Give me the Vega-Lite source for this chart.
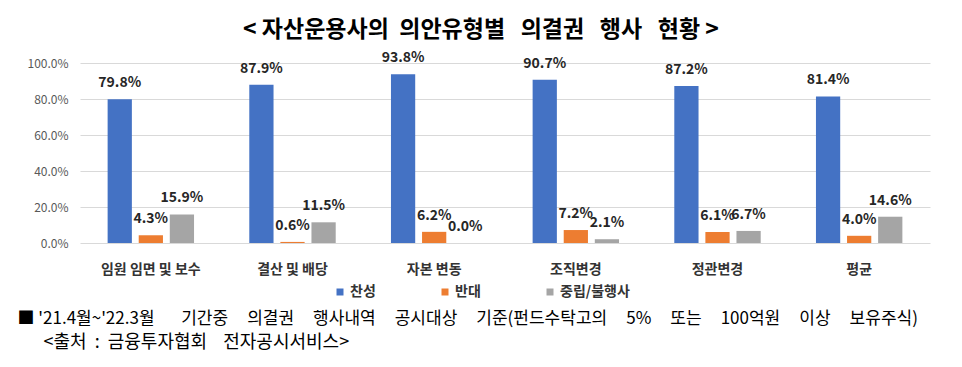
{
  "$schema": "https://vega.github.io/schema/vega-lite/v6.json",
  "width": 850,
  "height": 180,
  "autosize": {"type": "none"},
  "padding": {"left": 80, "top": 63, "right": 32, "bottom": 124},
  "background": "white",
  "config": {
    "font": "Noto Sans CJK KR",
    "view": {"stroke": null}
  },
  "title": {
    "text": "< 자산운용사의\u00a0\u00a0의안유형별\u00a0\u00a0\u00a0의결권\u00a0\u00a0\u00a0행사\u00a0\u00a0\u00a0현황 >",
    "font": "Noto Sans CJK KR",
    "fontSize": 23,
    "fontWeight": "bold",
    "color": "#000000",
    "anchor": "middle",
    "frame": "group",
    "dx": -24,
    "offset": 9
  },
  "data": {
    "values": [
      {"유형": "임원 임면 및 보수", "구분": "찬성", "비율": 0.798},
      {"유형": "임원 임면 및 보수", "구분": "반대", "비율": 0.043},
      {"유형": "임원 임면 및 보수", "구분": "중립/불행사", "비율": 0.159},
      {"유형": "결산 및 배당", "구분": "찬성", "비율": 0.879},
      {"유형": "결산 및 배당", "구분": "반대", "비율": 0.006},
      {"유형": "결산 및 배당", "구분": "중립/불행사", "비율": 0.115},
      {"유형": "자본 변동", "구분": "찬성", "비율": 0.938},
      {"유형": "자본 변동", "구분": "반대", "비율": 0.062},
      {"유형": "자본 변동", "구분": "중립/불행사", "비율": 0.0},
      {"유형": "조직변경", "구분": "찬성", "비율": 0.907},
      {"유형": "조직변경", "구분": "반대", "비율": 0.072},
      {"유형": "조직변경", "구분": "중립/불행사", "비율": 0.021},
      {"유형": "정관변경", "구분": "찬성", "비율": 0.872},
      {"유형": "정관변경", "구분": "반대", "비율": 0.061},
      {"유형": "정관변경", "구분": "중립/불행사", "비율": 0.067},
      {"유형": "평균", "구분": "찬성", "비율": 0.814},
      {"유형": "평균", "구분": "반대", "비율": 0.04},
      {"유형": "평균", "구분": "중립/불행사", "비율": 0.146}
    ]
  },
  "encoding": {
    "x": {
      "field": "유형",
      "type": "nominal",
      "sort": ["임원 임면 및 보수", "결산 및 배당", "자본 변동", "조직변경", "정관변경", "평균"],
      "scale": {"paddingInner": 0.39, "paddingOuter": 0.195},
      "axis": {
        "labelAngle": 0,
        "labelFontSize": 14,
        "labelFontWeight": "bold",
        "labelColor": "#333333",
        "labelPadding": 19,
        "ticks": false,
        "domain": false,
        "grid": false,
        "title": "■ '21.4월~'22.3월\u00a0\u00a0\u00a0\u00a0\u00a0\u00a0\u00a0기간중\u00a0\u00a0\u00a0\u00a0\u00a0의결권\u00a0\u00a0\u00a0\u00a0\u00a0행사내역\u00a0\u00a0\u00a0\u00a0\u00a0공시대상\u00a0\u00a0\u00a0\u00a0\u00a0기준(펀드수탁고의\u00a0\u00a0\u00a0\u00a0\u00a05%\u00a0\u00a0\u00a0\u00a0\u00a0또는\u00a0\u00a0\u00a0\u00a0\u00a0100억원\u00a0\u00a0\u00a0\u00a0\u00a0이상\u00a0\u00a0\u00a0\u00a0\u00a0보유주식)",
        "titleFont": "Noto Sans CJK KR",
        "titleFontSize": 17,
        "titleFontWeight": "normal",
        "titleColor": "#000000",
        "titleAlign": "left",
        "titleBaseline": "middle",
        "titleX": -63,
        "titleY": 75
      }
    },
    "xOffset": {
      "field": "구분",
      "sort": ["찬성", "반대", "중립/불행사"],
      "scale": {"paddingInner": 0.22, "paddingOuter": 0}
    },
    "y": {
      "field": "비율",
      "type": "quantitative",
      "scale": {"domain": [0, 1]},
      "axis": {
        "values": [0, 0.2, 0.4, 0.6, 0.8, 1.0],
        "format": ".1%",
        "labelFontSize": 12,
        "labelColor": "#595959",
        "labelPadding": 12,
        "ticks": false,
        "domain": false,
        "gridColor": "#d9d9d9",
        "gridWidth": 1,
        "title": "<출처\u00a0\u00a0:\u00a0\u00a0금융투자협회\u00a0\u00a0\u00a0\u00a0전자공시서비스>",
        "titleFont": "Noto Sans CJK KR",
        "titleFontSize": 18,
        "titleFontWeight": "normal",
        "titleColor": "#000000",
        "titleAngle": 0,
        "titleAlign": "left",
        "titleBaseline": "middle",
        "titleX": -37,
        "titleY": 279
      }
    }
  },
  "layer": [
    {
      "mark": {"type": "bar"},
      "encoding": {
        "color": {
          "field": "구분",
          "type": "nominal",
          "sort": ["찬성", "반대", "중립/불행사"],
          "scale": {"domain": ["찬성", "반대", "중립/불행사"], "range": ["#4472C4", "#ED7D31", "#A5A5A5"]},
          "legend": {
            "title": null,
            "orient": "none",
            "direction": "horizontal",
            "legendX": 253,
            "legendY": 222,
            "symbolType": "square",
            "symbolSize": 49,
            "symbolStrokeWidth": 0,
            "symbolOffset": 0,
            "labelOffset": 3,
            "labelFontSize": 14,
            "labelFontWeight": "bold",
            "labelColor": "#333333",
            "columnPadding": 62,
            "padding": 0
          }
        }
      }
    },
    {
      "mark": {"type": "text", "baseline": "middle", "dy": -16, "fontSize": 14, "fontWeight": "bold", "color": "#262626"},
      "encoding": {
        "text": {"field": "비율", "type": "quantitative", "format": ".1%"}
      }
    }
  ]
}
